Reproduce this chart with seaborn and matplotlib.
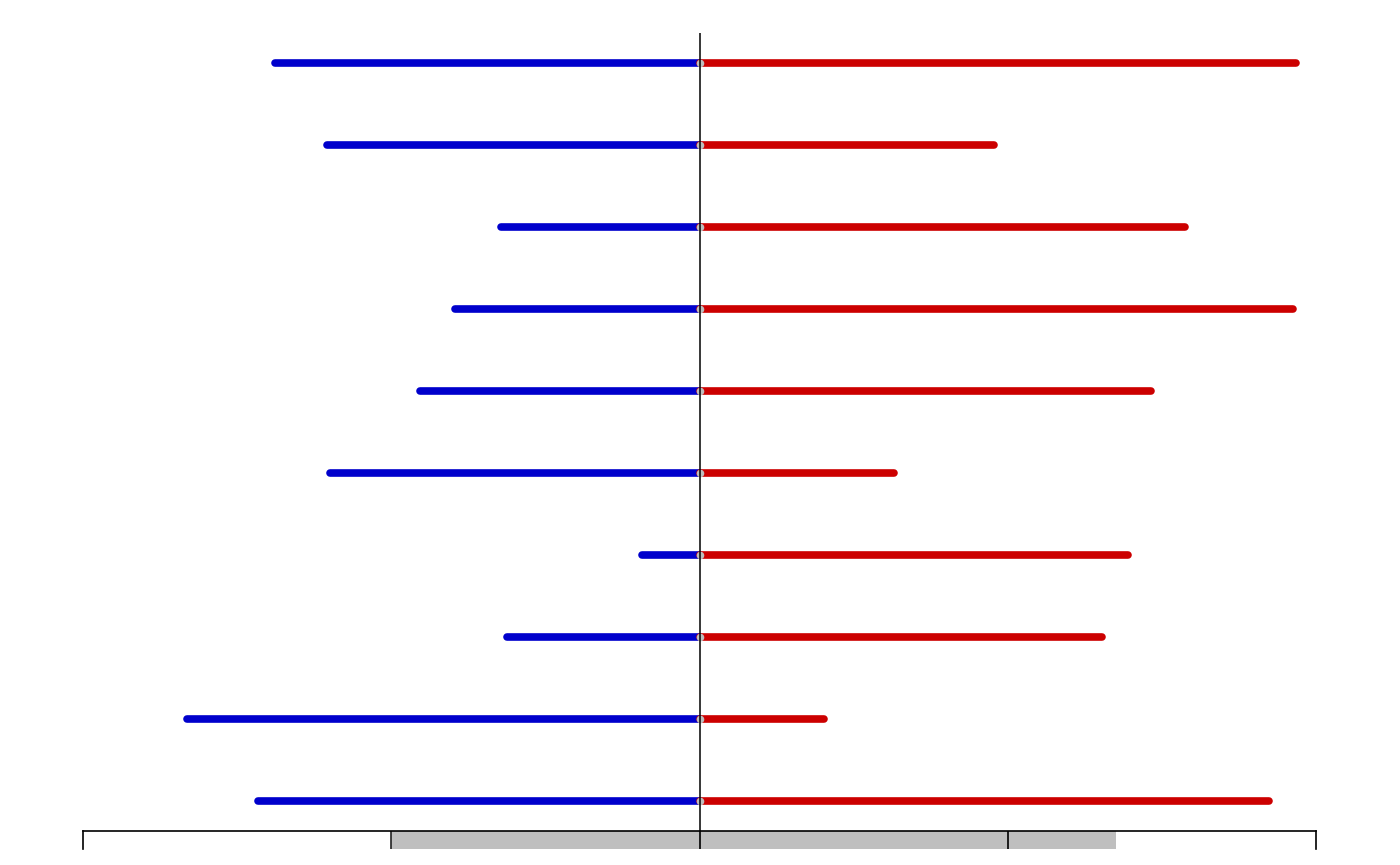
import numpy as np
import pandas as pd
import seaborn as sns
import matplotlib.pyplot as plt


# one row per item, top to bottom
rows = list(range(10))
left_vals = [1.378, 1.208, 0.643, 0.793, 0.906, 1.198, 0.186, 0.624, 1.664, 1.431]
right_vals = [1.935, 0.956, 1.575, 1.925, 1.465, 0.632, 1.39, 1.306, 0.405, 1.847]

# shaded band in the strip at the bottom
band_lo = -1.0
band_hi = 1.352
strip_ticks = [-1, 0, 1]

BLUE = '#0000cc'
RED = '#cc0000'
GREY = '#bfbfbf'


def main():
    sns.set_style('white')
    W, H = 1400, 865
    fig = plt.figure(figsize=(14, 8.65), dpi=100)

    x0, x1 = 83, 1316
    ax = fig.add_axes([x0 / W, 1 - 831 / H, (x1 - x0) / W, (831 - 33) / H])
    strip = fig.add_axes([x0 / W, 1 - 849 / H, (x1 - x0) / W, 18 / H])

    df = pd.DataFrame({'row': rows, 'left': left_vals, 'right': right_vals})

    ax.hlines(df['row'], -df['left'], 0, color=BLUE, lw=5.5, capstyle='round', zorder=2)
    ax.hlines(df['row'], 0, df['right'], color=RED, lw=5.5, capstyle='round', zorder=2)
    sns.scatterplot(x=np.zeros(len(df)), y=df['row'], ax=ax, color=GREY,
                    marker='o', s=30, linewidth=0, zorder=3, legend=False)
    ax.axvline(0, color='black', lw=1.1, zorder=4)

    pad = 30 / 82
    ax.set_xlim(-2, 2)
    ax.set_ylim(len(rows) - 1 + pad, -pad)
    ax.set_axis_off()

    strip.set_xlim(-2, 2)
    strip.set_ylim(0, 1)
    strip.axvspan(band_lo, band_hi, color=GREY, lw=0)
    for t in strip_ticks:
        strip.axvline(t, color='#222222' if t < 0 else 'black', lw=1.2)
    for side in ['top', 'left', 'right']:
        strip.spines[side].set_color('black')
        strip.spines[side].set_linewidth(1.2)
    strip.spines['bottom'].set_visible(False)
    strip.set_xticks([])
    strip.set_yticks([])

    plt.savefig('out.png', dpi=100)


if __name__ == "__main__":
    main()
